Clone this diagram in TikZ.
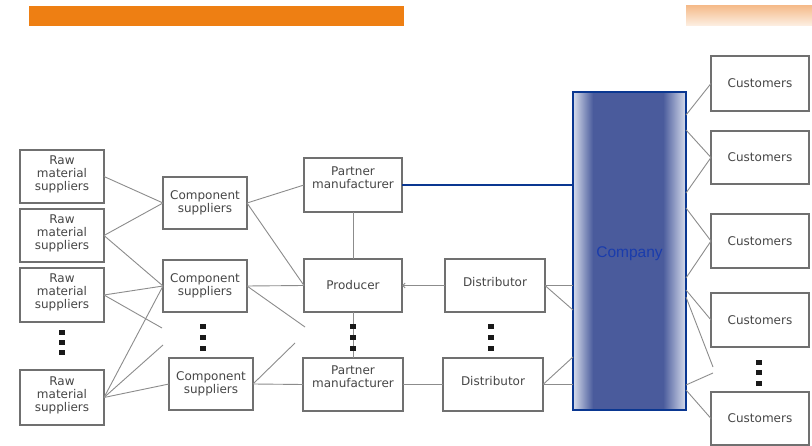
\documentclass[tikz,border=0pt]{standalone}
\usepackage{fontspec}
\setmainfont{DejaVu Sans}
\newfontfamily\cofont{Liberation Sans}
\usetikzlibrary{arrows.meta}
\definecolor{orbar}{RGB}{238,127,19}
\definecolor{orlight}{RGB}{245,188,140}
\definecolor{orpale}{RGB}{253,240,228}
\definecolor{boxc}{RGB}{112,112,112}
\definecolor{txtc}{RGB}{70,70,70}
\definecolor{linec}{RGB}{140,140,140}
\definecolor{cob}{RGB}{74,91,156}
\definecolor{col}{RGB}{215,221,236}
\definecolor{coborder}{RGB}{10,55,145}
\definecolor{cotext}{RGB}{26,60,172}
\definecolor{dotc}{RGB}{25,25,25}
\newcommand\liftup[2]{\raisebox{#1}[\height][\depth]{#2}}
\newcommand\stacktxt[1]{\begin{tabular}{@{}c@{}}#1\end{tabular}}
\begin{document}
\begin{tikzpicture}[x=1pt,y=-1pt,
  box/.style={draw=boxc, line width=1.1pt, fill=white, text=txtc, align=center,
    inner sep=0pt, outer sep=0pt, font=\fontsize{12}{13}\selectfont},
  sz/.style 2 args={minimum width=#1pt, minimum height=#2pt},
  ln/.style={draw=linec, line width=0.9pt},
  dotsq/.style={fill=dotc}]
\useasboundingbox (0,0) rectangle (812,446);
\fill[white] (0,0) rectangle (812,446);
% header bars
\fill[orbar] (29,6) rectangle (404,26);
\shade[top color=orlight, bottom color=orpale] (686,6) rectangle (812,26);

% company body
\fill[cob] (573,92) rectangle (686,410);
\shade[left color=col, right color=cob] (573,92) rectangle (593,410);
\shade[left color=cob, right color=col] (663,92) rectangle (686,410);
\node[draw=coborder, line width=2pt, inner sep=0pt, outer sep=0pt, sz={113}{318},
  text=cotext, font=\cofont\fontsize{15.5}{17}\selectfont] (co) at (629.5,251) {\liftup{-3pt}{Company}};

% raw material suppliers
\node[box, sz={84}{53}] (raw1) at (62,176.5) {\liftup{2pt}{\stacktxt{Raw\\material\\suppliers}}};
\node[box, sz={84}{53}] (raw2) at (62,235.5) {\liftup{2pt}{\stacktxt{Raw\\material\\suppliers}}};
\node[box, sz={84}{54}] (raw3) at (62,295) {\liftup{2pt}{\stacktxt{Raw\\material\\suppliers}}};
\node[box, sz={84}{55}] (raw4) at (62,397.5) {\liftup{2pt}{\stacktxt{Raw\\material\\suppliers}}};

% component suppliers
\node[box, sz={84}{52}] (comp1) at (205,203) {Component\\suppliers};
\node[box, sz={84}{52}] (comp2) at (205,286) {Component\\suppliers};
\node[box, sz={84}{52}] (comp3) at (211,384) {Component\\suppliers};

% producer column
\node[box, sz={98}{54}] (pm1) at (353,185) {\liftup{6pt}{\stacktxt{Partner\\manufacturer}}};
\node[box, sz={98}{53}] (prod) at (353,285.5) {Producer};
\node[box, sz={100}{53}] (pm2) at (353,384.5) {\liftup{6pt}{\stacktxt{Partner\\manufacturer}}};

% distributors
\node[box, sz={100}{53}] (dist1) at (495,285.5) {\liftup{3pt}{Distributor}};
\node[box, sz={100}{53}] (dist2) at (493,384.5) {\liftup{3pt}{Distributor}};

% customers
\node[box, sz={98}{55}] (cust1) at (760,83.5) {Customers};
\node[box, sz={98}{53}] (cust2) at (760,157.5) {Customers};
\node[box, sz={98}{54}] (cust3) at (760,241) {Customers};
\node[box, sz={98}{54}] (cust4) at (760,320) {Customers};
\node[box, sz={98}{53}] (cust5) at (760,418.5) {Customers};

% free ends of partial connectors
\coordinate (p1) at (162,328);
\coordinate (p2) at (163,345);
\coordinate (p3) at (305,327);
\coordinate (p4) at (295,343);
\coordinate (q1) at (713,367);
\coordinate (q2) at (713,373);

% raw -> component
\draw[ln] (raw1.east) -- (comp1.west);
\draw[ln] (raw2.east) -- (comp1.west);
\draw[ln] (raw2.east) -- (comp2.west);
\draw[ln] (raw3.east) -- (comp2.west);
\draw[ln] (raw3.east) -- (p1);
\draw[ln] (raw4.east) -- (comp2.west);
\draw[ln] (raw4.east) -- (p2);
\draw[ln] (raw4.east) -- (comp3.west);

% component -> producer column
\draw[ln] (comp1.east) -- (pm1.west);
\draw[ln] (comp1.east) -- (prod.west);
\draw[ln] (comp2.east) -- (prod.west);
\draw[ln] (comp2.east) -- (p3);
\draw[ln] (comp3.east) -- (p4);
\draw[ln] (comp3.east) -- (pm2.west);

% producer column
\draw[ln] (pm1.south) -- (prod.north);
\draw[ln] (prod.south) -- (pm2.north);
\draw[ln, {Straight Barb[length=2.5pt,width=5pt]}-] (prod.east) -- (dist1.west);
\draw[ln] (pm2.east) -- (dist2.west);

% partner to company (blue)
\draw[draw=coborder, line width=1.8pt] (pm1.east) -- (pm1.east -| co.west);

% distributors -> company
\draw[ln] (dist1.east) -- (dist1.east -| co.west);
\draw[ln] (dist1.east) -- ([yshift=-59pt]co.west);
\draw[ln] (dist2.east) -- (dist2.east -| co.west);
\draw[ln] (dist2.east) -- ([yshift=-106pt]co.west);

% company -> customers
\draw[ln] ([yshift=136pt]co.east) -- (cust1.west);
\draw[ln] ([yshift=121pt]co.east) -- (cust2.west);
\draw[ln] ([yshift=58pt]co.east) -- (cust2.west);
\draw[ln] ([yshift=43pt]co.east) -- (cust3.west);
\draw[ln] ([yshift=-27pt]co.east) -- (cust3.west);
\draw[ln] ([yshift=-39pt]co.east) -- (cust4.west);
\draw[ln] ([yshift=-46pt]co.east) -- (q1);
\draw[ln] (q2) -- ([yshift=-134pt]co.east);
\draw[ln] ([yshift=-139pt]co.east) -- (cust5.west);

% ellipsis dots
\foreach \x/\y in {62/333, 62/343, 62/353,
                   203/327, 203/338, 203/349,
                   353/327, 353/338, 353/349,
                   491/327, 491/338, 491/349,
                   759/363, 759/373, 759/384}
  \fill[dotsq] (\x-3,\y-2.5) rectangle (\x+3,\y+2.5);
\end{tikzpicture}
\end{document}
